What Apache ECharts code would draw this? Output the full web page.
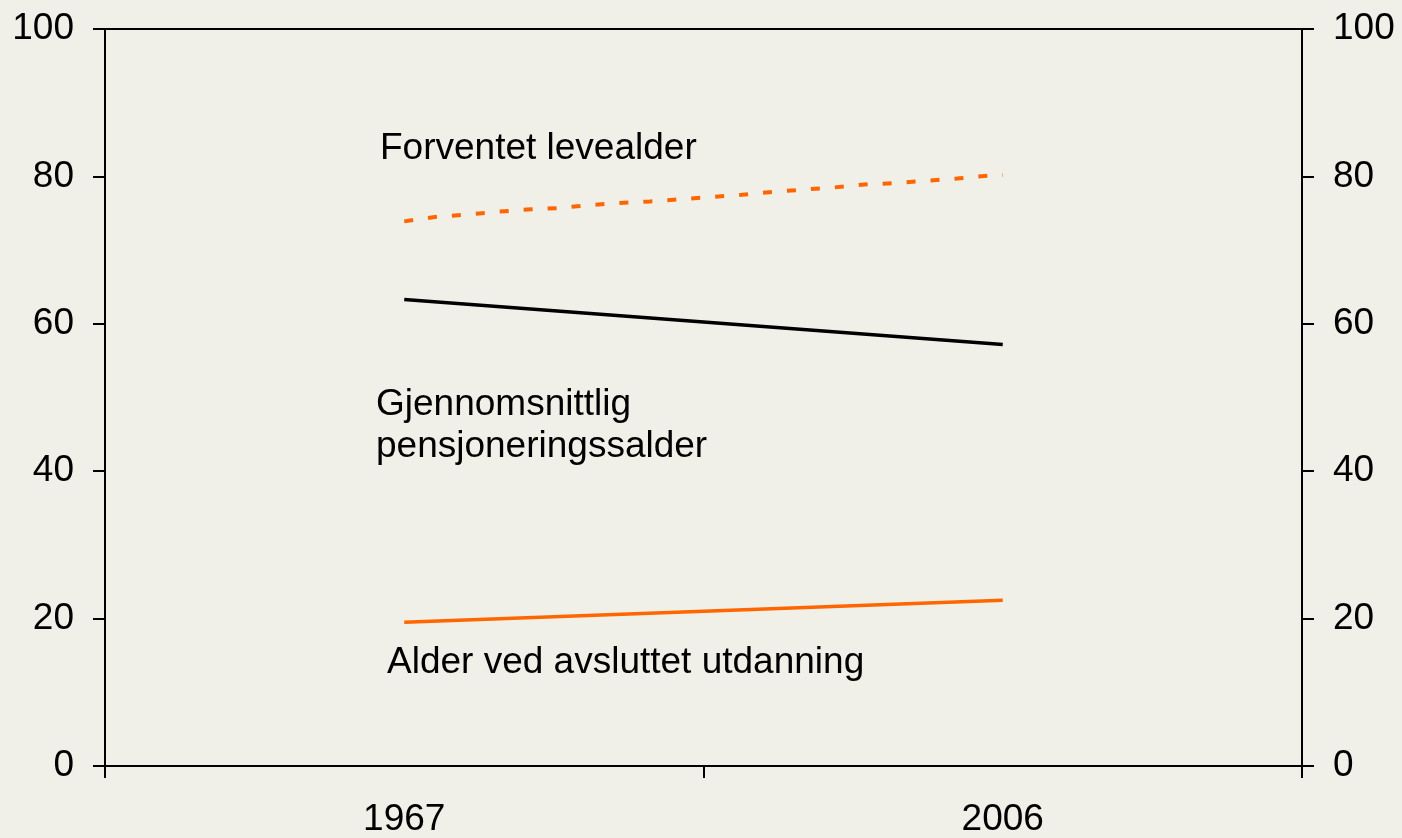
<!DOCTYPE html>
<html>
<head>
<meta charset="utf-8">
<script src="https://cdn.jsdelivr.net/npm/echarts@6/dist/echarts.min.js"></script>
<style>
  html, body { margin: 0; padding: 0; background: #f0efe8; }
  #main { width: 1402px; height: 838px; }
</style>
</head>
<body>
<div id="main"></div>
<script>
// data
var categories = ['1967', '2006'];
var yTicks = [0, 20, 40, 60, 80, 100];

// Forventet levealder (dotted orange)
var levealderYears = [1967, 1969, 1971, 1973, 1975, 1977, 1979, 1981, 1983, 1985, 1987, 1989, 1991, 1993, 1995, 1997, 1999, 2001, 2003, 2005, 2006];
var levealder = [73.9, 74.5, 74.8, 75.2, 75.5, 75.7, 76.1, 76.4, 76.6, 76.9, 77.2, 77.5, 77.9, 78.2, 78.5, 78.9, 79.1, 79.4, 79.7, 80.1, 80.2];

// Gjennomsnittlig pensjoneringsalder (black)
var pensjonYears = [1967, 2006];
var pensjon = [63.3, 57.2];

// Alder ved avsluttet utdanning (orange)
var utdanningYears = [1967, 2006];
var utdanning = [19.5, 22.5];

function pairs(xs, ys) {
  return xs.map(function (x, i) { return [x, ys[i]]; });
}

var myChart = echarts.init(document.getElementById('main'));

var font = 'Liberation Sans, Arial, sans-serif';
var axisCommon = {
  axisLine: { show: true, lineStyle: { color: '#000', width: 2 } },
  axisTick: { show: true, length: 12, lineStyle: { color: '#000', width: 2 } },
  splitLine: { show: false }
};

option = {
  backgroundColor: '#f0efe8',
  animation: false,
  grid: {
    left: 105, right: 100, top: 29, bottom: 72,
    show: true, borderColor: '#000', borderWidth: 2, backgroundColor: 'transparent'
  },
  xAxis: [
    Object.assign({
      type: 'category',
      data: categories,
      boundaryGap: true,
      position: 'bottom',
      axisLabel: { color: '#000', fontSize: 37, fontFamily: font, margin: 35 }
    }, axisCommon),
    {
      // hidden year scale so that 1967 and 2006 fall on the category centres
      type: 'value',
      min: 1947.5,
      max: 2025.5,
      show: false
    }
  ],
  yAxis: [0, 1].map(function (i) {
    return Object.assign({
      type: 'value',
      position: i === 0 ? 'left' : 'right',
      min: yTicks[0],
      max: yTicks[yTicks.length - 1],
      interval: yTicks[1] - yTicks[0],
      axisLabel: { color: '#000', fontSize: 37, fontFamily: font, margin: 31 }
    }, axisCommon);
  }),
  series: [
    {
      name: 'Forventet levealder',
      type: 'line',
      xAxisIndex: 1,
      showSymbol: false,
      data: pairs(levealderYears, levealder),
      lineStyle: { color: '#ff6600', width: 4, type: [9, 15], cap: 'butt' }
    },
    {
      name: 'Gjennomsnittlig pensjoneringsalder',
      type: 'line',
      xAxisIndex: 1,
      showSymbol: false,
      data: pairs(pensjonYears, pensjon),
      lineStyle: { color: '#000', width: 3.5 }
    },
    {
      name: 'Alder ved avsluttet utdanning',
      type: 'line',
      xAxisIndex: 1,
      showSymbol: false,
      data: pairs(utdanningYears, utdanning),
      lineStyle: { color: '#ff6600', width: 3.5 }
    }
  ],
  graphic: [
    {
      type: 'text', left: 380, top: 130,
      style: { text: 'Forventet levealder', font: '37px ' + font, fill: '#000' }
    },
    {
      type: 'text', left: 376, top: 384,
      style: { text: 'Gjennomsnittlig\npensjoneringssalder', font: '37px ' + font, fill: '#000', lineHeight: 42 }
    },
    {
      type: 'text', left: 387, top: 644,
      style: { text: 'Alder ved avsluttet utdanning', font: '37px ' + font, fill: '#000' }
    }
  ]
};

myChart.setOption(option);
</script>
</body>
</html>
